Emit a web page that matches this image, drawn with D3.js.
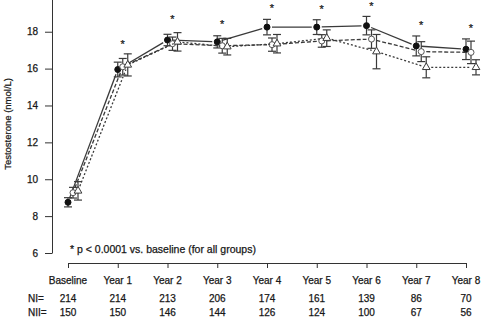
<!DOCTYPE html>
<html>
<head>
<meta charset="utf-8">
<script src="https://cdn.jsdelivr.net/npm/d3@7"></script>
<style>
  body { margin: 0; background: #fff; }
  svg { display: block; font-family: "Liberation Sans", Arial, sans-serif; }
  svg text { stroke: #222; stroke-width: 0.25px; }
  .axis path, .axis line { stroke: #333; stroke-width: 1; }
  .axis text { fill: #111; font-size: 10px; }
</style>
</head>
<body>
<div id="chart"></div>
<script>
// data
const visits = ["Baseline", "Year 1", "Year 2", "Year 3", "Year 4", "Year 5", "Year 6", "Year 7", "Year 8"];
const yTicks = [6, 8, 10, 12, 14, 16, 18];

const filledMean = [8.75, 15.95, 17.55, 17.45, 18.25, 18.25, 18.33, 17.23, 17.05];
const filledErr  = [0.25, 0.40, 0.31, 0.33, 0.42, 0.40, 0.50, 0.54, 0.56];
const openMean   = [9.27, 16.10, 17.35, 17.24, 17.30, 17.50, 17.60, 16.92, 16.88];
const openErr    = [0.29, 0.45, 0.36, 0.40, 0.36, 0.34, 0.50, 0.54, 0.61];
const triMean    = [9.37, 16.20, 17.45, 17.19, 17.35, 17.65, 16.92, 16.07, 16.07];
const triErr     = [0.50, 0.60, 0.50, 0.45, 0.50, 0.45, 0.93, 0.57, 0.41];

// asterisk heights (nmol/L) for Year 1 .. Year 8
const starLevel = [null, 17.44, 18.78, 18.53, 19.40, 19.36, 19.50, 18.47, 18.31];

const nI  = [214, 214, 213, 206, 174, 161, 139, 86, 70];
const nII = [150, 150, 146, 144, 126, 124, 100, 67, 56];

const note = "* p < 0.0001 vs. baseline (for all groups)";

// Step 1: set up
//=========================
const svgWidth = 500, svgHeight = 318;

const svg = d3.select("#chart")
  .append("svg")
  .attr("width", svgWidth)
  .attr("height", svgHeight);

const x = d3.scalePoint()
  .domain(visits)
  .range([68, 466]);

const y = d3.scaleLinear()
  .domain([6, 20])
  .range([253, 253 - 14 * 18.44]);

// Step 2: axes
//=========================
svg.append("g")
  .attr("class", "axis")
  .attr("transform", "translate(52,0)")
  .call(d3.axisLeft(y).tickValues(yTicks).tickSize(7).tickPadding(7).tickSizeOuter(0));

svg.append("g")
  .attr("class", "axis")
  .attr("transform", "translate(0,263)")
  .call(d3.axisBottom(x).tickSize(5).tickSizeOuter(0).tickFormat(""));

svg.selectAll(".visit-label")
  .data(visits)
  .enter()
  .append("text")
  .attr("x", d => x(d))
  .attr("y", 284)
  .attr("text-anchor", "middle")
  .style("font-size", "10px")
  .style("fill", "#111")
  .text(d => d);

// y title
svg.append("text")
  .attr("transform", `translate(11, ${y(13)}) rotate(-90)`)
  .attr("text-anchor", "middle")
  .style("font-size", "9.5px")
  .style("fill", "#111")
  .text("Testosterone (nmol/L)");

// Step 3: series
//=========================
const series = [
  { mean: filledMean, err: filledErr, shift: 0, dash: null, marker: "filled" },
  { mean: openMean, err: openErr, shift: 5, dash: "4,2", marker: "open" },
  { mean: triMean, err: triErr, shift: 10, dash: "2,2", marker: "tri" }
];

const px = (s, i) => x(visits[i]) + s.shift;
const gap = 5;

series.forEach(s => {
  const g = svg.append("g");

  // connecting segments, stopped short of the markers
  const segs = d3.pairs(s.mean.map((v, i) => [px(s, i), y(v)]));
  const cut = (a, b, t) => {
    const L = Math.hypot(b[0] - a[0], b[1] - a[1]);
    return [a[0] + (b[0] - a[0]) * t / L, a[1] + (b[1] - a[1]) * t / L];
  };
  g.selectAll("line.seg")
    .data(segs)
    .enter()
    .append("line")
    .attr("x1", d => cut(d[0], d[1], gap)[0])
    .attr("y1", d => cut(d[0], d[1], gap)[1])
    .attr("x2", d => cut(d[1], d[0], gap)[0])
    .attr("y2", d => cut(d[1], d[0], gap)[1])
    .attr("stroke", "#3a3a3a")
    .attr("stroke-width", 1.3)
    .attr("stroke-dasharray", s.dash);

  // error bars
  const bars = g.selectAll("g.bar")
    .data(s.mean)
    .enter()
    .append("g")
    .attr("stroke", "#3a3a3a")
    .attr("stroke-width", 1.2);
  bars.append("line")
    .attr("x1", (d, i) => px(s, i)).attr("x2", (d, i) => px(s, i))
    .attr("y1", (d, i) => y(d + s.err[i])).attr("y2", (d, i) => y(d - s.err[i]));
  bars.append("line")
    .attr("x1", (d, i) => px(s, i) - 4).attr("x2", (d, i) => px(s, i) + 4)
    .attr("y1", (d, i) => y(d + s.err[i])).attr("y2", (d, i) => y(d + s.err[i]));
  bars.append("line")
    .attr("x1", (d, i) => px(s, i) - 4).attr("x2", (d, i) => px(s, i) + 4)
    .attr("y1", (d, i) => y(d - s.err[i])).attr("y2", (d, i) => y(d - s.err[i]));

  // markers
  if (s.marker === "tri") {
    g.selectAll("path.mk")
      .data(s.mean)
      .enter()
      .append("path")
      .attr("d", d3.symbol().type(d3.symbolTriangle).size(26))
      .attr("transform", (d, i) => `translate(${px(s, i)}, ${y(d)})`)
      .attr("fill", "#fff")
      .attr("stroke", "#3a3a3a")
      .attr("stroke-width", 1);
  } else {
    g.selectAll("circle.mk")
      .data(s.mean)
      .enter()
      .append("circle")
      .attr("cx", (d, i) => px(s, i))
      .attr("cy", d => y(d))
      .attr("r", 3)
      .attr("fill", s.marker === "filled" ? "#111" : "#fff")
      .attr("stroke", s.marker === "filled" ? "#111" : "#555")
      .attr("stroke-width", 1);
  }
});

// asterisks
svg.selectAll(".star")
  .data(starLevel.map((v, i) => ({ v, i })).filter(d => d.v !== null))
  .enter()
  .append("text")
  .attr("x", d => x(visits[d.i]) + 5)
  .attr("y", d => y(d.v) + 6)
  .attr("text-anchor", "middle")
  .style("font-size", "11px")
  .style("fill", "#111")
  .text("*");

svg.append("text")
  .attr("x", 70)
  .attr("y", 253)
  .style("font-size", "10.5px")
  .style("fill", "#111")
  .text(note);

// Step 4: counts
//=========================
const rows = [
  { label: "NI=", vals: nI, y: 302 },
  { label: "NII=", vals: nII, y: 316 }
];

rows.forEach(r => {
  svg.append("text")
    .attr("x", 28)
    .attr("y", r.y)
    .style("font-size", "10px")
    .style("fill", "#111")
    .text(r.label);
  svg.selectAll(null)
    .data(r.vals)
    .enter()
    .append("text")
    .attr("x", (d, i) => x(visits[i]))
    .attr("y", r.y)
    .attr("text-anchor", "middle")
    .style("font-size", "10px")
    .style("fill", "#111")
    .text(d => d);
});
</script>
</body>
</html>
